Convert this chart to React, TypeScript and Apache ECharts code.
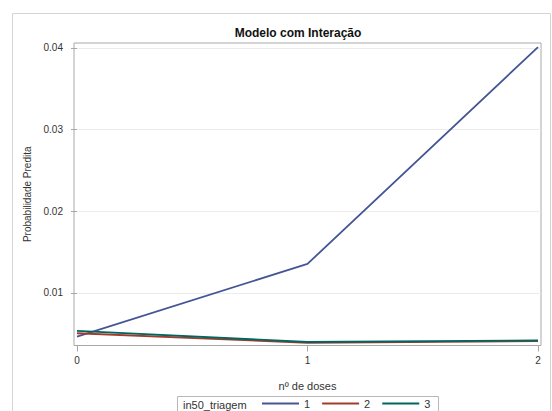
import React, { useEffect, useRef } from "react";
import * as echarts from "echarts";

const doses = [0, 1, 2];
const triagem1 = [0.00463, 0.01354, 0.0401];
const triagem2 = [0.00504, 0.00387, 0.00408];
const triagem3 = [0.00533, 0.00397, 0.00415];
const yTicks = [0.01, 0.02, 0.03, 0.04];
const xTicks = [0, 1, 2];
const seriesNames = ["1", "2", "3"];
const colors = ["#445694", "#A23A2E", "#01665E"];

const FONT = "'Liberation Sans', Arial, sans-serif";

export default function App() {
  const ref = useRef<HTMLDivElement>(null);
  useEffect(() => {
    if (!ref.current) return;
    const chart = echarts.init(ref.current, undefined, { renderer: "svg" });
    const values = [triagem1, triagem2, triagem3];
    chart.setOption({
      animation: false,
      backgroundColor: "#ffffff",
      textStyle: { fontFamily: FONT },
      title: {
        text: "Modelo com Interação",
        left: 293,
        top: 22,
        textAlign: "center",
        textStyle: { fontSize: 12, fontWeight: "bold", color: "#111", fontFamily: FONT },
      },
      grid: {
        left: 74,
        right: 11,
        top: 43,
        bottom: 65.5,
        show: true,
        borderColor: "#a8a8a8",
        borderWidth: 1,
        backgroundColor: "transparent",
      },
      xAxis: {
        type: "value",
        min: -0.013,
        max: 2.013,
        name: "nº de doses",
        nameLocation: "middle",
        nameGap: 35,
        nameTextStyle: { fontSize: 11, color: "#333", fontFamily: FONT },
        axisLine: { show: false },
        axisTick: { show: true, customValues: xTicks, length: 6, lineStyle: { color: "#a8a8a8" } },
        axisLabel: { customValues: xTicks, fontSize: 10, color: "#333", margin: 10, fontFamily: FONT },
        splitLine: { show: false },
      },
      yAxis: {
        type: "value",
        min: 0.00354,
        max: 0.0406,
        name: "Probabilidade Predita",
        nameLocation: "middle",
        nameGap: 42,
        nameTextStyle: { fontSize: 10, color: "#333", fontFamily: FONT },
        axisLine: { show: false },
        axisTick: { show: true, customValues: yTicks, length: 6, lineStyle: { color: "#a8a8a8" } },
        axisLabel: { customValues: yTicks, fontSize: 10, color: "#333", margin: 11, fontFamily: FONT },
        splitLine: { show: true, lineStyle: { color: "#ececec", width: 1 } },
      },
      legend: {
        data: seriesNames.map((n) => ({ name: n, icon: "rect" })),
        left: 262,
        top: 398,
        padding: 0,
        itemWidth: 37,
        itemHeight: 2,
        itemGap: 12,
        textStyle: { fontSize: 11, color: "#333", fontFamily: FONT },
      },
      graphic: [
        {
          type: "rect",
          silent: true,
          shape: { x: 12.5, y: 13.5, width: 538, height: 420 },
          style: { fill: "none", stroke: "#d4d4d4", lineWidth: 1 },
          z: -10,
        },
        {
          type: "rect",
          silent: true,
          shape: { x: 177.5, y: 396.5, width: 261, height: 17 },
          style: { fill: "none", stroke: "#b8b8b8", lineWidth: 1 },
        },
        {
          type: "text",
          silent: true,
          x: 183,
          y: 404.5,
          style: {
            text: "in50_triagem",
            fontSize: 11,
            fill: "#333",
            fontFamily: FONT,
            verticalAlign: "middle",
          },
        },
      ],
      series: seriesNames.map((name, i) => ({
        name,
        type: "line",
        symbol: "none",
        data: doses.map((d, j) => [d, values[i][j]]),
        lineStyle: { color: colors[i], width: 1.8 },
        itemStyle: { color: colors[i] },
      })),
    });
    return () => chart.dispose();
  }, []);
  return (
    <div
      ref={ref}
      style={{ position: "absolute", left: 0, top: 0, width: 552, height: 411 }}
    />
  );
}
